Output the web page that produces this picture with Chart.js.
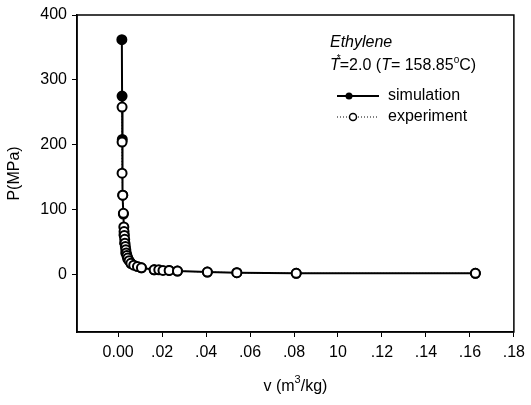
<!DOCTYPE html>
<html>
<head>
<meta charset="utf-8">
<script src="https://cdn.jsdelivr.net/npm/chart.js@4/dist/chart.umd.min.js"></script>
<style>
    html, body { margin: 0; padding: 0; background: #fff; }
    #wrap { width: 531px; height: 405px; }
</style>
</head>
<body>
<div id="wrap"><canvas id="pvChart" width="531" height="405"></canvas></div>
<script>
// experiment (open circles)
const expV = [0.0018, 0.0018, 0.0018, 0.0021, 0.0024, 0.0026, 0.0027, 0.0028, 0.0030, 0.0031,
    0.0033, 0.0035, 0.0037, 0.0040, 0.0044, 0.0050, 0.0058, 0.0071, 0.0088, 0.0106,
    0.0164, 0.0185, 0.0204, 0.0232, 0.0270, 0.0406, 0.0540, 0.0810, 0.1625];
const expP = [258, 204, 156, 122, 94, 73, 66, 60, 54, 48,
    43, 38, 33, 29, 25, 21, 17, 14, 12, 10,
    7, 7, 6, 6, 5, 3.5, 2.5, 1.5, 1.5];

// simulation (filled circles)
const simV = [0.0017, 0.0018, 0.0019, 0.0021, 0.0024, 0.0027, 0.0030, 0.0035, 0.0044, 0.0058,
    0.0106, 0.0164, 0.0232, 0.0270, 0.0406, 0.0540, 0.0810, 0.1625];
const simP = [362, 275, 208, 122, 93, 61, 48, 33, 24, 17,
    10, 7, 6, 5, 3.5, 2.5, 1.5, 1.5];

const xTicks = [0, 0.02, 0.04, 0.06, 0.08, 0.10, 0.12, 0.14, 0.16, 0.18];
const xTickLabels = ["0.00", ".02", ".04", ".06", ".08", "10", ".12", ".14", ".16", ".18"];
const yTicks = [0, 100, 200, 300, 400];

const FONT = "'Liberation Sans', Arial, sans-serif";

function toPoints(xs, ys) {
    return xs.map((x, i) => ({ x: x, y: ys[i] }));
}

// frame, axis titles and the in-plot legend
const decorations = {
    id: "decorations",
    afterDraw(chart) {
        const { ctx, chartArea: a } = chart;
        ctx.save();
        ctx.strokeStyle = "#000";
        ctx.lineWidth = 1.5;
        ctx.strokeRect(a.left, a.top, a.right - a.left, a.bottom - a.top);

        ctx.fillStyle = "#000";
        ctx.textBaseline = "middle";

        // x title
        ctx.font = "16px " + FONT;
        ctx.textAlign = "left";
        const xt1 = "v (m", xt2 = "3", xt3 = "/kg)";
        const w1 = ctx.measureText(xt1).width;
        const w3 = ctx.measureText(xt3).width;
        ctx.font = "11px " + FONT;
        const w2 = ctx.measureText(xt2).width;
        let x = (a.left + a.right) / 2 - (w1 + w2 + w3) / 2;
        const ty = 387;
        ctx.font = "16px " + FONT;
        ctx.fillText(xt1, x, ty);
        ctx.font = "11px " + FONT;
        ctx.fillText(xt2, x + w1, ty - 7);
        ctx.font = "16px " + FONT;
        ctx.fillText(xt3, x + w1 + w2, ty);

        // y title
        ctx.save();
        ctx.translate(15, (a.top + a.bottom) / 2);
        ctx.rotate(-Math.PI / 2);
        ctx.textAlign = "center";
        ctx.fillText("P(MPa)", 0, 0);
        ctx.restore();

        // legend header
        const lx = 330;
        ctx.textAlign = "left";
        ctx.font = "italic 16px " + FONT;
        ctx.fillText("Ethylene", lx, 43);

        let px = lx;
        const ly = 66;
        ctx.font = "italic 16px " + FONT;
        ctx.fillText("T", px, ly);
        px += ctx.measureText("T").width;
        ctx.font = "10px " + FONT;
        ctx.fillText("*", px - 3, ly - 7);
        ctx.font = "16px " + FONT;
        ctx.fillText("=2.0 (", px, ly);
        px += ctx.measureText("=2.0 (").width;
        ctx.font = "italic 16px " + FONT;
        ctx.fillText("T", px, ly);
        px += ctx.measureText("T").width;
        ctx.font = "16px " + FONT;
        ctx.fillText("= 158.85", px, ly);
        px += ctx.measureText("= 158.85").width;
        ctx.font = "10px " + FONT;
        ctx.fillText("o", px, ly - 6);
        px += ctx.measureText("o").width;
        ctx.font = "16px " + FONT;
        ctx.fillText("C)", px, ly);

        // legend entries
        const sy = 96, ey = 117;
        ctx.lineWidth = 2;
        ctx.beginPath();
        ctx.moveTo(337, sy);
        ctx.lineTo(379, sy);
        ctx.stroke();
        ctx.beginPath();
        ctx.arc(349, sy, 3.5, 0, Math.PI * 2);
        ctx.fill();

        ctx.lineWidth = 1;
        ctx.setLineDash([1, 2]);
        ctx.beginPath();
        ctx.moveTo(337, ey);
        ctx.lineTo(379, ey);
        ctx.stroke();
        ctx.setLineDash([]);
        ctx.fillStyle = "#fff";
        ctx.lineWidth = 1.5;
        ctx.beginPath();
        ctx.arc(353, ey, 3.5, 0, Math.PI * 2);
        ctx.fill();
        ctx.stroke();

        ctx.fillStyle = "#000";
        ctx.font = "16px " + FONT;
        ctx.fillText("simulation", 388, sy);
        ctx.fillText("experiment", 388, ey);
        ctx.restore();
    },
};

new Chart(document.getElementById("pvChart").getContext("2d"), {
    type: "scatter",

    data: {
        datasets: [
            {
                label: "experiment",
                data: toPoints(expV, expP),
                showLine: true,
                borderColor: "#000",
                borderWidth: 1,
                borderDash: [1, 2],
                pointRadius: 4.5,
                pointBorderWidth: 2,
                pointBackgroundColor: "#fff",
                pointBorderColor: "#000",
                order: 0,
            },
            {
                label: "simulation",
                data: toPoints(simV, simP),
                showLine: true,
                borderColor: "#000",
                borderWidth: 2,
                pointRadius: 4.5,
                pointBackgroundColor: "#000",
                pointBorderColor: "#000",
                order: 1,
            },
        ],
    },

    options: {
        responsive: false,
        animation: false,
        devicePixelRatio: 1,

        layout: {
            padding: { left: 0, right: 11, top: 15, bottom: 0 },
        },

        scales: {
            x: {
                type: "linear",
                min: -0.0187,
                max: 0.18,
                afterBuildTicks(scale) {
                    scale.ticks = xTicks.map((v) => ({ value: v }));
                },
                afterFit(scale) {
                    scale.height = 405 - 332;
                },
                ticks: {
                    color: "#000",
                    font: { family: FONT, size: 16 },
                    padding: 6,
                    maxRotation: 0,
                    autoSkip: false,
                    callback: (value, index) => xTickLabels[index],
                },
                grid: {
                    drawOnChartArea: false,
                    drawTicks: true,
                    tickLength: 5,
                    color: "#000",
                    lineWidth: 1,
                },
                border: { display: true, color: "#000", width: 1.5 },
            },
            y: {
                type: "linear",
                min: -89,
                max: 400,
                afterBuildTicks(scale) {
                    scale.ticks = yTicks.map((v) => ({ value: v }));
                },
                afterFit(scale) {
                    scale.width = 77;
                },
                ticks: {
                    color: "#000",
                    font: { family: FONT, size: 16 },
                    padding: 5,
                    autoSkip: false,
                },
                grid: {
                    drawOnChartArea: false,
                    drawTicks: true,
                    tickLength: 5,
                    color: "#000",
                    lineWidth: 1,
                },
                border: { display: true, color: "#000", width: 1.5 },
            },
        },

        plugins: {
            legend: { display: false },
            tooltip: { enabled: false },
        },
    },

    plugins: [decorations],
});
</script>
</body>
</html>
